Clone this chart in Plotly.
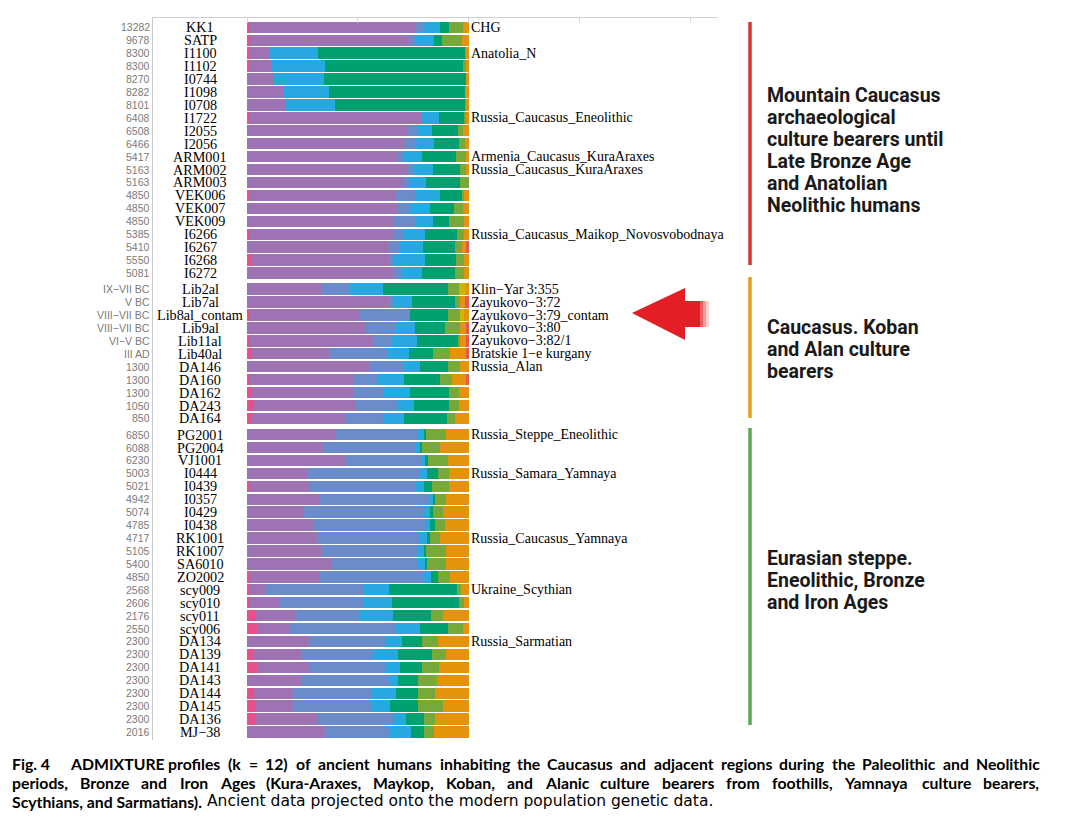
import plotly.graph_objects as go

# rows top to bottom, three groups
samples = [
    "KK1", "SATP", "I1100", "I1102", "I0744", "I1098", "I0708", "I1722", "I2055", "I2056",
    "ARM001", "ARM002", "ARM003", "VEK006", "VEK007", "VEK009", "I6266", "I6267", "I6268", "I6272",
    "Lib2al", "Lib7al", "Lib8al_contam", "Lib9al", "Lib11al", "Lib40al",
    "DA146", "DA160", "DA162", "DA243", "DA164",
    "PG2001", "PG2004", "VJ1001", "I0444", "I0439", "I0357", "I0429", "I0438", "RK1001", "RK1007",
    "SA6010", "ZO2002", "scy009", "scy010", "scy011", "scy006",
    "DA134", "DA139", "DA141", "DA143", "DA144", "DA145", "DA136", "MJ−38",
]
dates = [
    "13282", "9678", "8300", "8300", "8270", "8282", "8101", "6408", "6508", "6466",
    "5417", "5163", "5163", "4850", "4850", "4850", "5385", "5410", "5550", "5081",
    "IX−VII BC", "V BC", "VIII−VII BC", "VIII−VII BC", "VI−V BC", "III AD",
    "1300", "1300", "1300", "1050", "850",
    "6850", "6088", "6230", "5003", "5021", "4942", "5074", "4785", "4717", "5105",
    "5400", "4850", "2568", "2606", "2176", "2550",
    "2300", "2300", "2300", "2300", "2300", "2300", "2300", "2016",
]
group_sizes = [20, 11, 24]

populations = {
    "KK1": "CHG",
    "I1100": "Anatolia_N",
    "I1722": "Russia_Caucasus_Eneolithic",
    "ARM001": "Armenia_Caucasus_KuraAraxes",
    "ARM002": "Russia_Caucasus_KuraAraxes",
    "I6266": "Russia_Caucasus_Maikop_Novosvobodnaya",
    "Lib2al": "Klin−Yar 3:355",
    "Lib7al": "Zayukovo−3:72",
    "Lib8al_contam": "Zayukovo−3:79_contam",
    "Lib9al": "Zayukovo−3:80",
    "Lib11al": "Zayukovo−3:82/1",
    "Lib40al": "Bratskie 1−e kurgany",
    "DA146": "Russia_Alan",
    "PG2001": "Russia_Steppe_Eneolithic",
    "I0444": "Russia_Samara_Yamnaya",
    "RK1001": "Russia_Caucasus_Yamnaya",
    "scy009": "Ukraine_Scythian",
    "DA134": "Russia_Sarmatian",
}

# ancestry components, percent
pink = [1.2, 1.2, 1.0, 1.0, 0, 0, 0, 1.5, 0.5, 0,
        0, 0, 0, 1.0, 0.5, 0, 1.5, 0.5, 1.8, 0,
        0.3, 0.5, 1.5, 0.3, 1.5, 2.3, 0.5, 1.5, 1.8, 3.3, 1.8,
        0.5, 0, 0, 0.3, 1.2, 0, 0, 0.5, 0, 0, 0.3, 1.2,
        1.0, 1.5, 3.8, 4.5, 0.5, 3.3, 4.5, 0.5, 3.3, 4.1, 3.5, 0.5]
purple = [75.2, 72.2, 9.5, 10.2, 12.0, 16.2, 17.3, 77.0, 71.6, 71.4,
          68.1, 72.2, 71.0, 65.9, 67.2, 65.7, 64.2, 63.7, 62.1, 66.5,
          33.5, 63.4, 48.9, 53.1, 55.6, 35.3, 55.1, 46.2, 45.9, 45.9, 42.3,
          39.8, 34.3, 44.1, 26.8, 27.1, 33.1, 25.6, 29.1, 31.6, 33.8, 37.7, 31.9,
          7.5, 13.5, 18.3, 15.0, 27.3, 21.2, 24.1, 24.3, 17.3, 16.5, 28.4, 34.8]
steel = [3.3, 3.0, 0, 0, 0, 0, 0, 0, 5.3, 4.5,
         2.6, 3.3, 2.0, 9.0, 5.7, 10.7, 4.7, 4.2, 2.6, 3.5,
         12.8, 2.3, 23.3, 13.5, 8.3, 25.9, 15.3, 11.0, 14.0, 18.5, 17.3,
         37.1, 42.1, 34.9, 50.7, 48.1, 48.9, 54.4, 50.8, 45.9, 42.9, 39.4, 46.6,
         43.8, 37.9, 28.7, 47.8, 34.6, 32.9, 34.3, 39.1, 35.8, 35.8, 33.8, 29.0]
sky = [7.5, 7.8, 21.5, 24.0, 22.9, 21.0, 22.3, 8.0, 6.3, 8.3,
       8.3, 8.3, 8.0, 11.3, 9.0, 7.5, 10.1, 11.0, 14.0, 9.0,
       14.7, 8.3, 0, 9.0, 11.3, 9.5, 7.2, 12.3, 12.0, 7.5, 9.3,
       2.3, 1.8, 1.5, 3.3, 3.6, 2.0, 2.7, 2.3, 3.8, 3.0, 3.0, 3.5,
       12.0, 12.5, 14.9, 10.8, 7.5, 10.7, 6.3, 4.2, 10.8, 8.0, 6.2, 9.6]
green = [3.8, 3.8, 66.5, 62.7, 64.1, 61.3, 59.1, 11.3, 11.7, 11.3,
         15.5, 12.5, 15.3, 9.8, 11.1, 7.1, 14.3, 14.6, 14.0, 15.0,
         29.4, 19.4, 17.0, 13.5, 18.8, 10.8, 12.8, 16.2, 17.3, 15.8, 19.5,
         1.2, 0.8, 1.2, 5.0, 3.5, 1.0, 1.2, 2.3, 1.5, 1.2, 0.8, 3.0,
         30.7, 30.1, 17.3, 12.8, 9.3, 15.6, 9.8, 9.3, 10.2, 12.8, 7.8, 6.0]
olive = [6.5, 9.0, 0.7, 0.9, 0, 0, 0.3, 1.2, 2.3, 3.0,
         4.8, 3.0, 3.7, 1.0, 3.9, 7.1, 3.3, 3.0, 3.6, 4.1,
         4.8, 2.3, 5.6, 6.8, 0.5, 8.0, 5.3, 5.3, 4.5, 4.5, 3.8,
         8.9, 8.3, 8.9, 5.3, 7.5, 4.8, 4.8, 4.5, 4.5, 8.9, 8.6, 5.3,
         1.5, 2.3, 5.7, 6.5, 7.2, 6.0, 7.8, 8.6, 7.5, 11.3, 5.3, 4.7]
yellow = [0, 0, 0, 0, 0, 0, 0, 0, 0, 0,
          0, 0, 0, 0, 0, 0, 0, 0, 0, 0,
          3.0, 0, 1.5, 0, 0, 0, 0, 0, 0, 0, 0,
          0, 0, 0, 0, 0, 0, 0, 0, 0, 0, 0, 0,
          0, 0, 0, 0, 0, 0, 0, 0, 0, 0, 0, 0]
orange = [2.5, 3.0, 0.8, 1.2, 1.0, 1.5, 1.0, 1.0, 2.3, 1.5,
          0.7, 0.7, 0, 2.0, 2.6, 1.9, 1.9, 1.8, 1.9, 1.9,
          1.5, 2.3, 2.2, 3.0, 3.3, 7.5, 3.8, 6.5, 4.5, 4.5, 6.0,
          10.2, 12.7, 9.4, 8.6, 9.0, 10.2, 11.3, 10.5, 12.7, 10.2, 10.2, 8.5,
          3.5, 2.2, 11.3, 2.6, 13.6, 10.3, 13.2, 14.0, 15.1, 11.5, 15.0, 15.4]
red = [0, 0, 0, 0, 0, 0, 0, 0, 0, 0,
       0, 0, 0, 0, 0, 0, 0, 1.2, 0, 0,
       0, 1.5, 0, 0.8, 0.7, 0.7, 0, 1.0, 0, 0, 0,
       0, 0, 0, 0, 0, 0, 0, 0, 0, 0, 0, 0,
       0, 0, 0, 0, 0, 0, 0, 0, 0, 0, 0, 0]

components = [
    (pink, "#e8508c"), (purple, "#9e73b4"), (steel, "#6a8ccb"), (sky, "#27a8e0"),
    (green, "#00a071"), (olive, "#77a83a"), (yellow, "#cfb600"), (orange, "#e6930c"),
    (red, "#e8584a"),
]

group_labels = [
    ["Mountain Caucasus", "archaeological", "culture bearers until",
     "Late Bronze Age", "and Anatolian", "Neolithic humans"],
    ["Caucasus. Koban", "and Alan culture", "bearers"],
    ["Eurasian steppe.", "Eneolithic, Bronze", "and Iron Ages"],
]
group_colors = ["#d9342b", "#e8a020", "#5aaa50"]

# caption text
caption_fig = "Fig. 4"
caption_l1 = "ADMIXTURE profiles (k = 12) of ancient humans inhabiting the Caucasus and adjacent regions during the Paleolithic and Neolithic"
caption_l2 = "periods, Bronze and Iron Ages (Kura-Araxes, Maykop, Koban, and Alanic culture bearers from foothills, Yamnaya culture bearers,"
caption_l3_bold = "Scythians, and Sarmatians)."
caption_l3 = "Ancient data projected onto the modern population genetic data."

# row positions with a small gap between groups
ypos = []
for g, n in enumerate(group_sizes):
    start = sum(group_sizes[:g])
    ypos += [start + i + 0.25 * g for i in range(n)]

# page has an 8px body margin, so work in reference pixels and shift
OFF = 8
W, H = 1090 - 2 * OFF, 821 - 2 * OFF


def X(p):
    return (p - OFF) / W


def Y(p):
    return 1 - (p - OFF) / H


# rough Lato Bold advance widths (1/1000 em), used to justify caption lines
LATO_B = {
    "a": 520, "b": 565, "c": 460, "d": 565, "e": 535, "f": 340, "g": 505, "h": 565, "i": 250,
    "j": 250, "k": 520, "l": 250, "m": 850, "n": 565, "o": 565, "p": 565, "r": 370, "s": 430,
    "t": 360, "u": 565, "v": 510, "w": 780, "x": 510, "y": 510, "z": 460,
    "A": 680, "B": 640, "C": 650, "D": 730, "E": 560, "F": 540, "I": 290, "K": 660, "M": 900,
    "N": 740, "P": 600, "R": 620, "S": 520, "T": 580, "U": 720, "X": 660, "Y": 630,
    ",": 230, ".": 230, "(": 300, ")": 300, "=": 580, "-": 330,
}


def text_w(s, size):
    return sum(LATO_B.get(ch, 580) for ch in s) / 1000 * size


def justify(words, left, right, size):
    widths = [text_w(w, size) for w in words]
    gap = (right - left - sum(widths)) / (len(words) - 1)
    xs, x = [], left
    for w in widths:
        xs.append(x)
        x += w + gap
    return xs


fig = go.Figure()
for vals, col in components:
    fig.add_trace(go.Bar(
        y=ypos, x=vals, orientation="h", width=0.88,
        marker=dict(color=col, line=dict(width=0)),
        showlegend=False, hoverinfo="skip",
    ))

ann = []
for y, s, d in zip(ypos, samples, dates):
    ann.append(dict(x=X(200), y=y, xref="paper", yref="y", text=s, showarrow=False,
                    xanchor="center", font=dict(family="Liberation Serif", size=14.2, color="black")))
    ann.append(dict(x=X(151.5), y=y, xref="paper", yref="y", text=d, showarrow=False,
                    xanchor="right", font=dict(family="Liberation Sans", size=10.5, color="#7a7a7a")))
    if s in populations:
        ann.append(dict(x=X(468.5), y=y, xref="paper", yref="y", text=populations[s],
                        showarrow=False, xanchor="left",
                        font=dict(family="Liberation Serif", size=14, color="black")))

# group descriptions on the right
label_tops = [95, 327, 558]
for lines, top in zip(group_labels, label_tops):
    for k, line in enumerate(lines):
        ann.append(dict(x=X(765), y=Y(top + 22.2 * k), xref="paper", yref="paper",
                        text=line, showarrow=False, xanchor="left", yanchor="middle",
                        font=dict(family="Roboto", size=19.5, color="#1a1a1a", weight="bold")))

# caption, lines 1 and 2 justified word by word
CAP = 15.8
cap_bold = dict(family="Lato", size=CAP, color="black", weight="bold")


def cap(txt, xp, yp, font=cap_bold):
    ann.append(dict(x=X(xp), y=Y(yp), xref="paper", yref="paper", text=txt, showarrow=False,
                    xanchor="left", yanchor="middle", font=font))


cap(caption_fig, 10, 763)
w1 = caption_l1.split()
for w, xp in zip(w1, justify(w1, 68, 1037, CAP)):
    cap(w, xp, 763)
w2 = caption_l2.split()
for w, xp in zip(w2, justify(w2, 10, 1037, CAP)):
    cap(w, xp, 782)
cap(caption_l3_bold, 10, 801)
cap(caption_l3, 205, 801, dict(family="DejaVu Sans", size=15.5, color="black"))

shapes = []
band_px = [(22, 265), (277, 418), (428, 725)]
for (y0, y1), col in zip(band_px, group_colors):
    shapes.append(dict(type="line", xref="paper", yref="paper", x0=X(750), x1=X(750),
                       y0=Y(y0), y1=Y(y1), line=dict(color=col, width=3.5)))


def pt(x, y):
    return f"{X(x):.4f},{Y(y):.4f}"


# red arrow pointing at Lib8al_contam
arrow = ("M " + pt(632, 313) + " L " + pt(685, 288) + " L " + pt(685, 301) + " L " + pt(700, 301)
         + " L " + pt(700, 327) + " L " + pt(685, 327) + " L " + pt(685, 340) + " Z")
shapes.append(dict(type="path", xref="paper", yref="paper", path=arrow,
                   fillcolor="#e31e24", line=dict(width=0)))
for i, op in enumerate([0.7, 0.45, 0.2]):
    shapes.append(dict(type="rect", xref="paper", yref="paper",
                       x0=X(700 + 3 * i), x1=X(703 + 3 * i), y0=Y(301), y1=Y(327),
                       fillcolor="#e31e24", opacity=op, line=dict(width=0)))

x0_px, x1_px, bar0, bar1 = 153, 718, 247, 468.5
scale = 100 / (bar1 - bar0)
fig.update_layout(
    width=W, height=H, barmode="stack", bargap=0,
    margin=dict(l=0, r=0, t=0, b=0),
    paper_bgcolor="white", plot_bgcolor="white",
    xaxis=dict(domain=[X(x0_px), X(x1_px)], side="top",
               range=[(x0_px - bar0) * scale, (x1_px - bar0) * scale],
               tickvals=[0, 50, 100, 150, 200], ticks="inside", ticklen=5,
               tickcolor="#d8d8d8", showticklabels=False, showgrid=False, zeroline=False,
               showline=True, linecolor="#d0d0d0", linewidth=1),
    yaxis=dict(domain=[Y(740), Y(18)], range=[55.12, -0.72],
               showticklabels=False, showgrid=False, zeroline=False,
               showline=True, linecolor="#c8c8c8", linewidth=1),
    annotations=ann,
    shapes=shapes,
)

fig.write_html("out.html")
